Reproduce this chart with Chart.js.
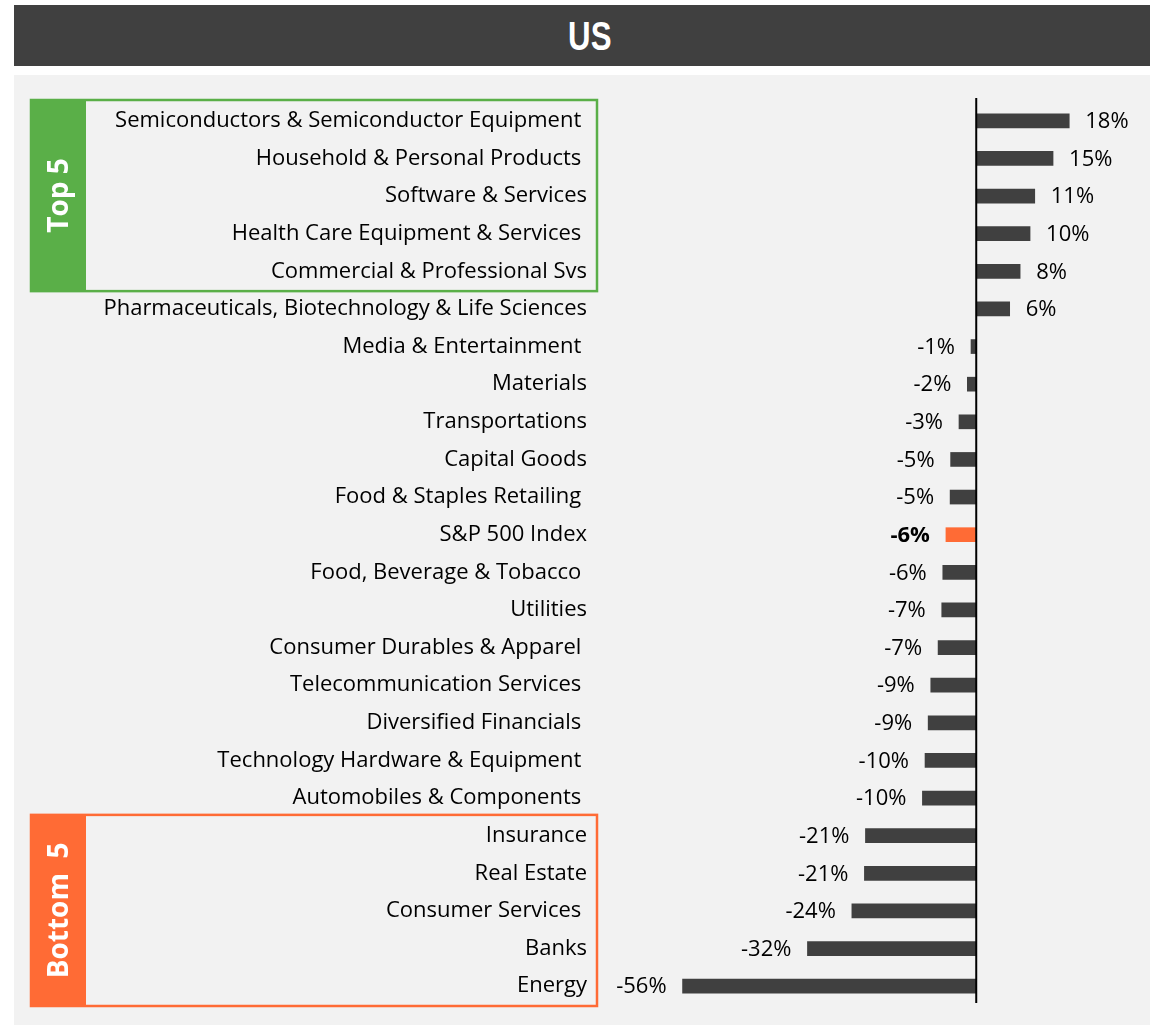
<!DOCTYPE html>
<html>
<head>
<meta charset="utf-8">
<script src="https://cdn.jsdelivr.net/npm/chart.js@4.4.0/dist/chart.umd.min.js"></script>
<style>
body { margin: 0; background: #fff; }
#title { position: absolute; left: 14px; top: 5px; width: 1120px; height: 61px; padding-left: 16px;
  background: #404040; color: #fff; font: bold 40px "Liberation Sans", sans-serif;
  text-align: center; line-height: 62px; }
#title span { display: inline-block; transform: scaleX(0.78); }
#panel { position: absolute; left: 14px; top: 75px; width: 1136px; height: 950px; background: #f2f2f2; }
#chart { position: absolute; left: 0; top: 0; }
</style>
</head>
<body>
<div id="title"><span>US</span></div>
<div id="panel"></div>
<canvas id="chart" width="1150" height="1027"></canvas>
<script>
// sectors, top to bottom (trailing spaces kept as in the original labels)
var categories = [
    "Semiconductors & Semiconductor Equipment ",
    "Household & Personal Products ",
    "Software & Services",
    "Health Care Equipment & Services ",
    "Commercial & Professional Svs",
    "Pharmaceuticals, Biotechnology & Life Sciences",
    "Media & Entertainment ",
    "Materials",
    "Transportations",
    "Capital Goods",
    "Food & Staples Retailing ",
    "S&P 500 Index",
    "Food, Beverage & Tobacco ",
    "Utilities",
    "Consumer Durables & Apparel ",
    "Telecommunication Services ",
    "Diversified Financials ",
    "Technology Hardware & Equipment ",
    "Automobiles & Components ",
    "Insurance",
    "Real Estate",
    "Consumer Services ",
    "Banks",
    "Energy"
];
// returns in %
var values = [17.8, 14.7, 11.2, 10.3, 8.4, 6.4, -1.0, -1.7, -3.3, -4.9, -5.0, -5.8,
    -6.4, -6.6, -7.3, -8.7, -9.2, -9.8, -10.3, -21.2, -21.4, -23.8, -32.3, -56.2];
var indexName = "S&P 500 Index";
var topGroup = [0, 4];
var bottomGroup = [19, 23];

var barColor = "#404040";
var indexColor = "#ff6b35";
var greenColor = "#5aaf48";
var orangeColor = "#ff6b35";
var fontFamily = "'Open Sans', sans-serif";

var valueLabels = {
    id: "valueLabels",
    afterDatasetsDraw: function(chart) {
        var ctx = chart.ctx;
        var meta = chart.getDatasetMeta(0);
        ctx.save();
        ctx.textBaseline = "middle";
        ctx.fillStyle = "#000";
        meta.data.forEach(function(bar, i) {
            var v = values[i];
            var bold = categories[i] === indexName;
            ctx.font = (bold ? "bold " : "") + "22px " + fontFamily;
            var txt = Math.round(v) + "%";
            if (v >= 0) {
                ctx.textAlign = "left";
                ctx.fillText(txt, bar.x + 16, bar.y + 1);
            } else {
                ctx.textAlign = "right";
                ctx.fillText(txt, bar.x - 16, bar.y + 1);
            }
        });
        ctx.restore();
    }
};

var zeroLine = {
    id: "zeroLine",
    afterDatasetsDraw: function(chart) {
        var ctx = chart.ctx;
        var x = chart.scales.x.getPixelForValue(0);
        ctx.save();
        ctx.strokeStyle = "#000";
        ctx.lineWidth = 2;
        ctx.beginPath();
        ctx.moveTo(x, chart.chartArea.top - 4);
        ctx.lineTo(x, chart.chartArea.bottom - 2);
        ctx.stroke();
        ctx.restore();
    }
};

function drawGroupBox(chart, range, color, text) {
    var ctx = chart.ctx;
    var y = chart.scales.y;
    var step = y.getPixelForValue(1) - y.getPixelForValue(0);
    var top = y.getPixelForValue(range[0]) - step / 2 - 2;
    var bottom = y.getPixelForValue(range[1]) + step / 2 + 1;
    var left = 31, right = 597;
    ctx.save();
    ctx.strokeStyle = color;
    ctx.lineWidth = 2.5;
    ctx.strokeRect(left, top, right - left, bottom - top);
    ctx.fillStyle = color;
    ctx.fillRect(left, top, 55, bottom - top);
    ctx.translate(left + 28, (top + bottom) / 2);
    ctx.rotate(-Math.PI / 2);
    ctx.fillStyle = "#fff";
    ctx.font = "bold 28px " + fontFamily;
    ctx.textAlign = "center";
    ctx.textBaseline = "middle";
    ctx.fillText(text, 0, 1);
    ctx.restore();
}

var groupBoxes = {
    id: "groupBoxes",
    beforeDatasetsDraw: function(chart) {
        drawGroupBox(chart, topGroup, greenColor, "Top 5");
        drawGroupBox(chart, bottomGroup, orangeColor, "Bottom  5");
    }
};

new Chart(document.getElementById("chart"), {
    type: "bar",
    data: {
        labels: categories,
        datasets: [{
            data: values,
            backgroundColor: categories.map(function(c) { return c === indexName ? indexColor : barColor; }),
            barThickness: 14
        }]
    },
    options: {
        indexAxis: "y",
        responsive: false,
        animation: false,
        layout: { padding: { top: 102, bottom: 22, left: 0, right: 17 } },
        plugins: { legend: { display: false }, tooltip: { enabled: false } },
        scales: {
            x: {
                display: false,
                min: -72,
                max: 30
            },
            y: {
                grid: { display: false, drawTicks: false },
                border: { display: false },
                ticks: {
                    autoSkip: false,
                    padding: 13,
                    color: "#000",
                    font: { family: fontFamily, size: 22 }
                },
                afterFit: function(scale) {
                    scale.width = 600;
                    scale.paddingTop = 0;
                    scale.paddingBottom = 0;
                }
            }
        }
    },
    plugins: [groupBoxes, valueLabels, zeroLine]
});
</script>
</body>
</html>
